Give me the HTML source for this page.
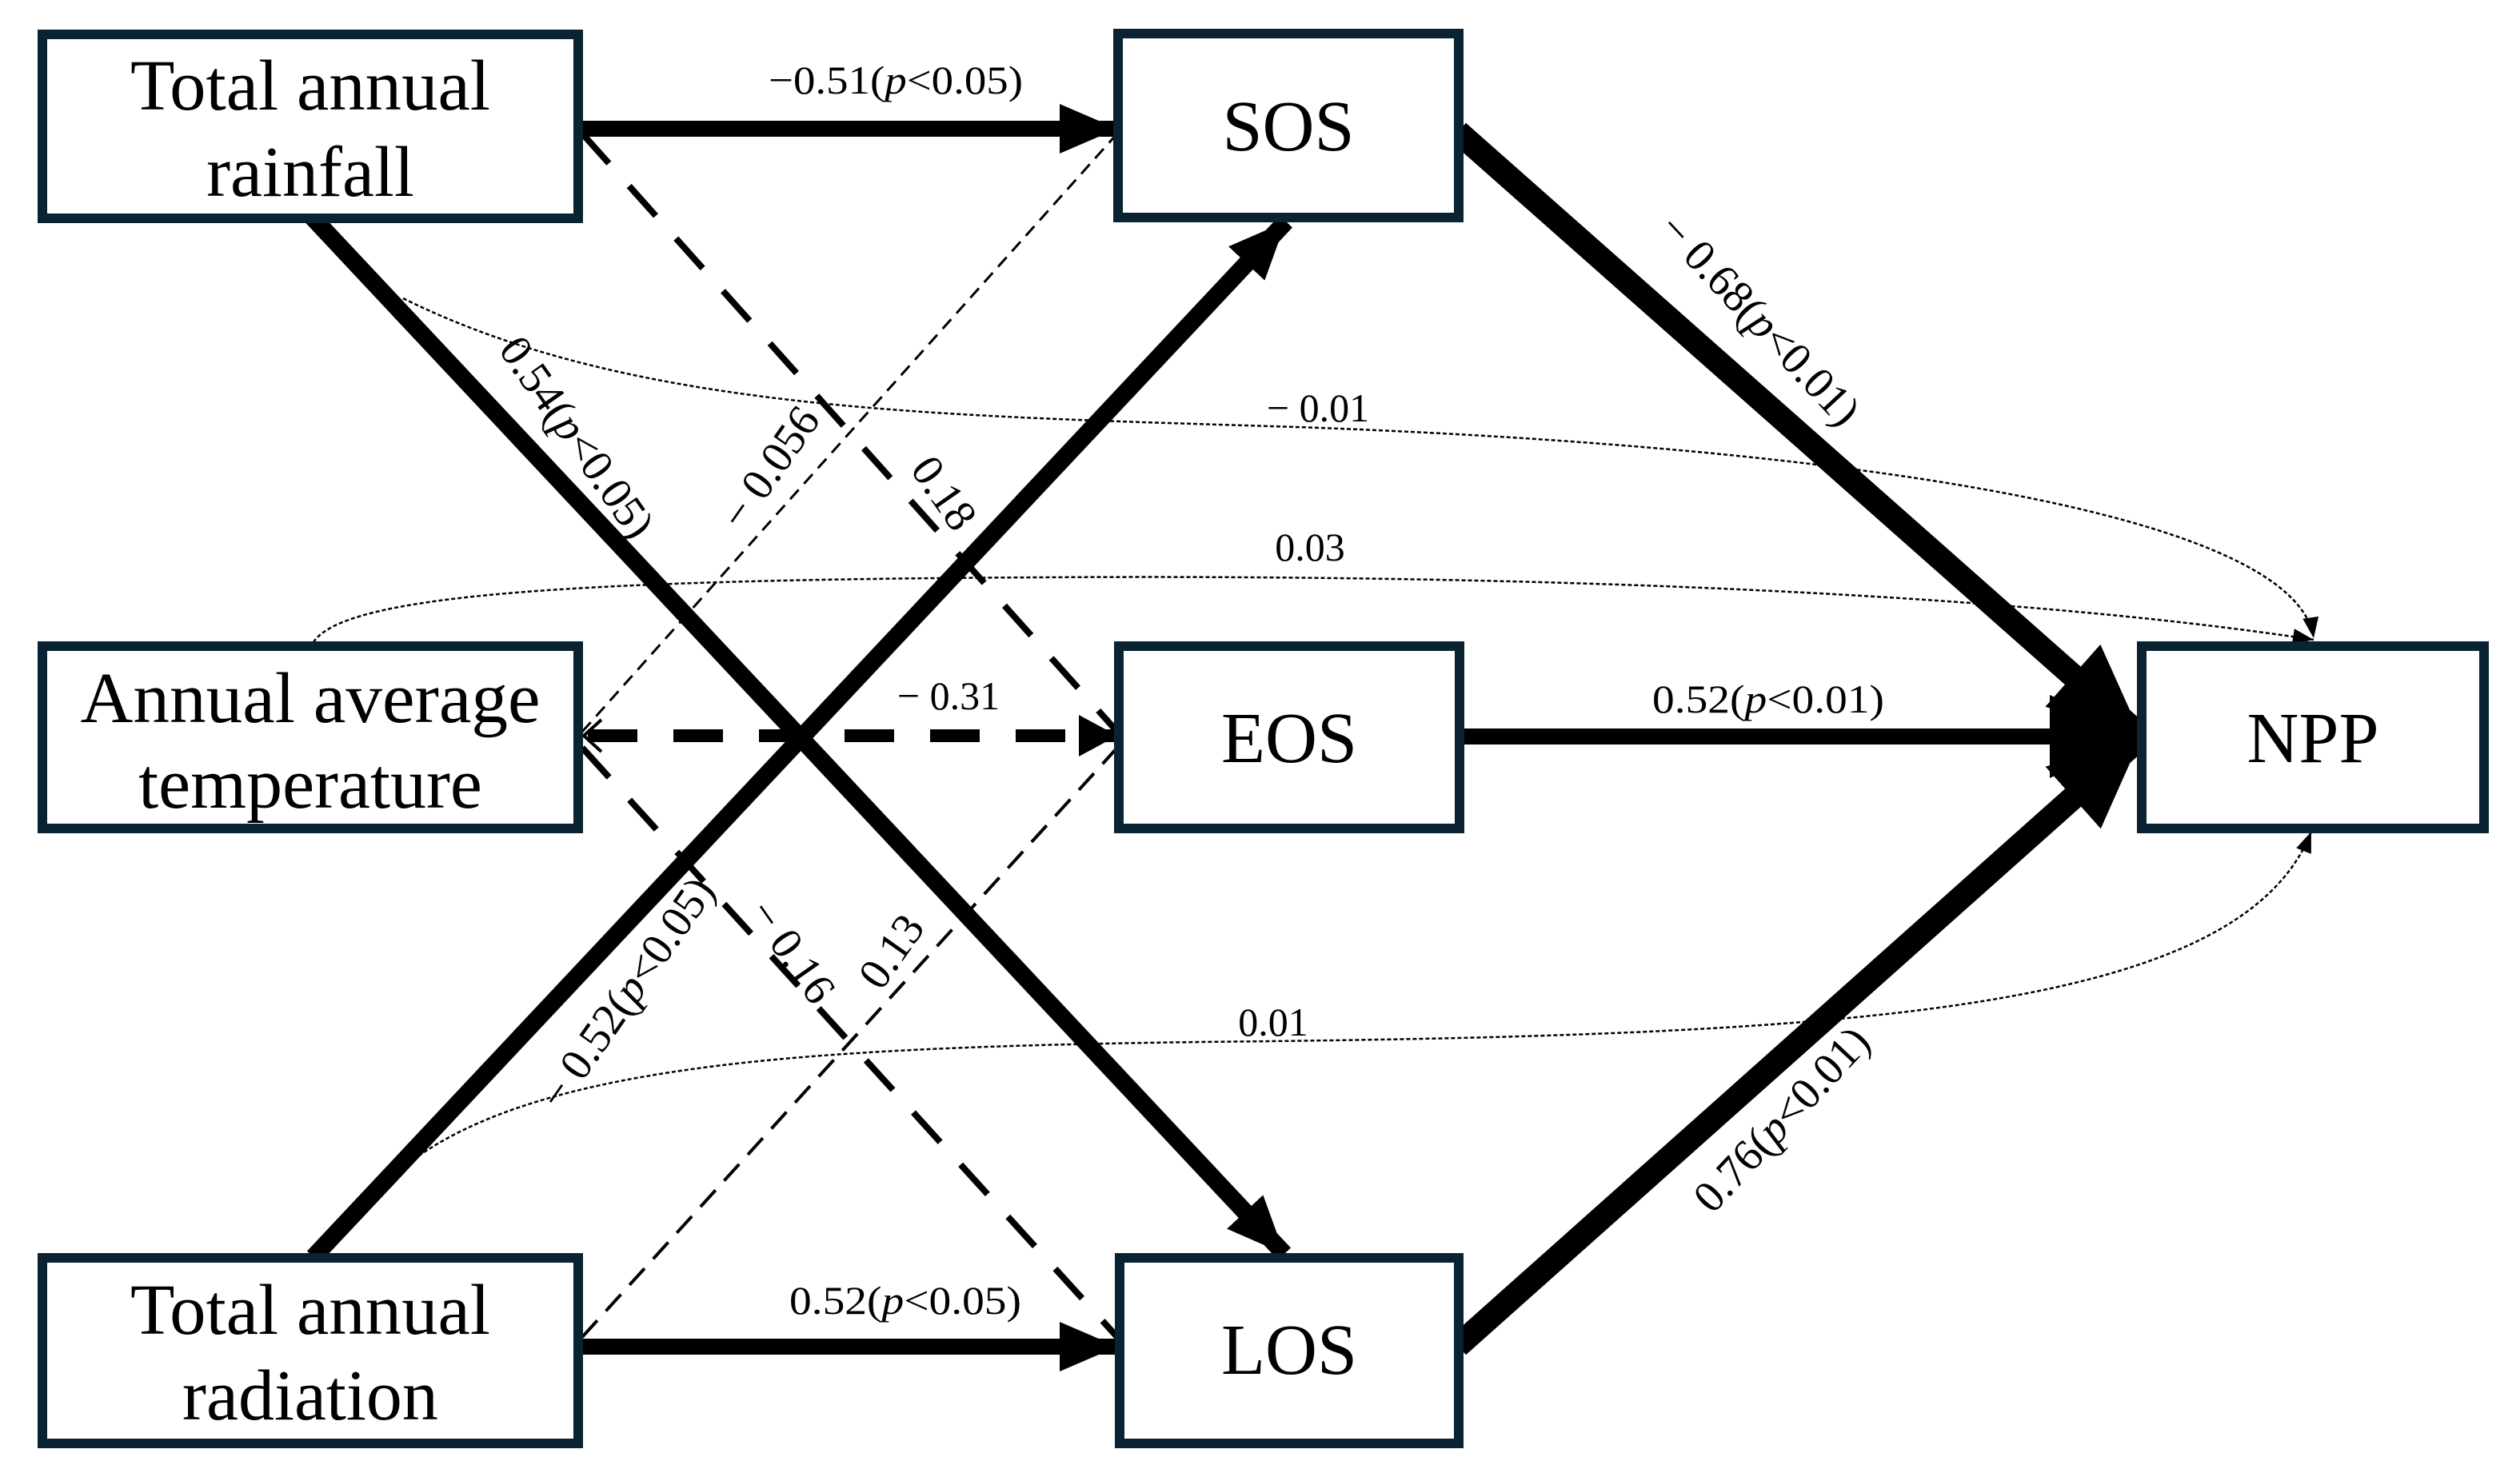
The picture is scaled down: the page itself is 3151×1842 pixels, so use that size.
<!DOCTYPE html>
<html><head><meta charset="utf-8"><style>
html,body{margin:0;padding:0;background:#fff;}
svg{display:block;}
text{font-family:"Liberation Serif",serif;fill:#000;}
.box{fill:#fff;stroke:#0a2332;stroke-width:12;}
.bt{font-size:90px;text-anchor:middle;}
.lb{font-size:50px;text-anchor:middle;dominant-baseline:central;}
.dl{font-size:56px;text-anchor:middle;dominant-baseline:central;}
</style></head><body>
<svg width="3151" height="1842" viewBox="0 0 3151 1842" xmlns="http://www.w3.org/2000/svg">
<defs>
<marker id="hA" markerUnits="userSpaceOnUse" markerWidth="72" markerHeight="62" refX="72" refY="31" orient="auto"><path d="M0,0 L72,31 L0,62 z" fill="#000"/></marker>
<marker id="hB" markerUnits="userSpaceOnUse" markerWidth="115" markerHeight="104" refX="115" refY="52" orient="auto"><path d="M0,0 L115,52 L0,104 z" fill="#000"/></marker>
<marker id="hD" markerUnits="userSpaceOnUse" markerWidth="48" markerHeight="52" refX="48" refY="26" orient="auto"><path d="M0,0 L48,26 L0,52 z" fill="#000"/></marker>
<marker id="hT" markerUnits="userSpaceOnUse" markerWidth="26" markerHeight="20" refX="26" refY="10" orient="auto"><path d="M0,0 L26,10 L0,20 z" fill="#000"/></marker>
</defs>

<g fill="none" stroke="#000" stroke-width="2.5" stroke-dasharray="5 3">
<path d="M504,373 C800,520 1200,520 1650,535 C2300,560 2870,640 2893,798" marker-end="url(#hT)"/>
<path d="M392,803 C430,745 700,725 1300,722 C1900,718 2500,740 2893,800" marker-end="url(#hT)"/>
<path d="M492,1470 C650,1330 1000,1310 1500,1303 C2300,1295 2800,1270 2890,1040" marker-end="url(#hT)"/>
</g>

<g fill="none" stroke="#000">
<line x1="728" y1="167" x2="1397" y2="915" stroke-width="8" stroke-dasharray="50 38"/>
<line x1="728" y1="935" x2="1397" y2="1672" stroke-width="8" stroke-dasharray="50 38"/>
<line x1="728" y1="1672" x2="1397" y2="935" stroke-width="4" stroke-dasharray="28 16"/>
<line x1="728" y1="915" x2="1397" y2="167" stroke-width="3" stroke-dasharray="16 10"/>
</g>
<line x1="735" y1="920" x2="1397" y2="920" stroke="#000" stroke-width="16" stroke-dasharray="62 45" marker-end="url(#hD)"/>
<path d="M752,900 L730,920 L752,940" fill="none" stroke="#000" stroke-width="4"/>

<line x1="389" y1="270" x2="1606" y2="1568" stroke="#000" stroke-width="22" marker-end="url(#hA)"/>
<line x1="392" y1="1572" x2="1608" y2="277" stroke="#000" stroke-width="22" marker-end="url(#hA)"/>

<line x1="727" y1="161" x2="1397" y2="161" stroke="#000" stroke-width="20" marker-end="url(#hA)"/>
<line x1="727" y1="1684" x2="1397" y2="1684" stroke="#000" stroke-width="20" marker-end="url(#hA)"/>

<line x1="1823" y1="165" x2="2678" y2="921" stroke="#000" stroke-width="30" marker-end="url(#hB)"/>
<line x1="1823" y1="1683" x2="2678" y2="921" stroke="#000" stroke-width="30" marker-end="url(#hB)"/>
<line x1="1830" y1="921" x2="2678" y2="921" stroke="#000" stroke-width="20" marker-end="url(#hB)"/>

<rect class="box" x="53" y="43" width="670" height="230"/>
<rect class="box" x="53" y="808" width="670" height="228"/>
<rect class="box" x="53" y="1573" width="670" height="232"/>
<rect class="box" x="1398" y="42" width="426" height="230"/>
<rect class="box" x="1399" y="808" width="426" height="228"/>
<rect class="box" x="1400" y="1573" width="424" height="232"/>
<rect class="box" x="2678" y="808" width="428" height="228"/>

<text class="bt" x="388" y="137" textLength="450" lengthAdjust="spacingAndGlyphs">Total annual</text>
<text class="bt" x="388" y="245">rainfall</text>
<text class="bt" x="388" y="903" textLength="575" lengthAdjust="spacingAndGlyphs">Annual average</text>
<text class="bt" x="388" y="1010">temperature</text>
<text class="bt" x="388" y="1668" textLength="450" lengthAdjust="spacingAndGlyphs">Total annual</text>
<text class="bt" x="388" y="1775">radiation</text>
<text class="bt" x="1611" y="188">SOS</text>
<text class="bt" x="1612" y="953">EOS</text>
<text class="bt" x="1612" y="1718">LOS</text>
<text class="bt" x="2892" y="953">NPP</text>

<text class="lb" x="1120" y="100" textLength="318" lengthAdjust="spacingAndGlyphs">−0.51(<tspan font-style="italic">p</tspan>&lt;0.05)</text>
<text class="lb" x="1132" y="1626" textLength="290" lengthAdjust="spacingAndGlyphs">0.52(<tspan font-style="italic">p</tspan>&lt;0.05)</text>
<text class="lb" x="2211" y="874" textLength="290" lengthAdjust="spacingAndGlyphs">0.52(<tspan font-style="italic">p</tspan>&lt;0.01)</text>
<text class="lb" x="1186" y="870">− 0.31</text>
<text class="lb" x="1648" y="510">− 0.01</text>
<text class="lb" x="1638" y="684">0.03</text>
<text class="lb" x="1592" y="1278">0.01</text>
<text class="dl" transform="translate(721,547) rotate(55)">0.54(<tspan font-style="italic">p</tspan>&lt;0.05)</text>
<text class="dl" transform="translate(963,585) rotate(-55)">− 0.056</text>
<text class="dl" transform="translate(1180,617) rotate(55)">0.18</text>
<text class="dl" transform="translate(784,1242) rotate(-55)">− 0.52(<tspan font-style="italic">p</tspan>&lt;0.05)</text>
<text class="dl" transform="translate(990,1190) rotate(55)">− 0.16</text>
<text class="dl" transform="translate(1115,1190) rotate(-55)">0.13</text>
<text class="dl" transform="translate(2200,400) rotate(47)">− 0.68(<tspan font-style="italic">p</tspan>&lt;0.01)</text>
<text class="dl" transform="translate(2228,1400) rotate(-47)">0.76(<tspan font-style="italic">p</tspan>&lt;0.01)</text>
</svg>
</body></html>
